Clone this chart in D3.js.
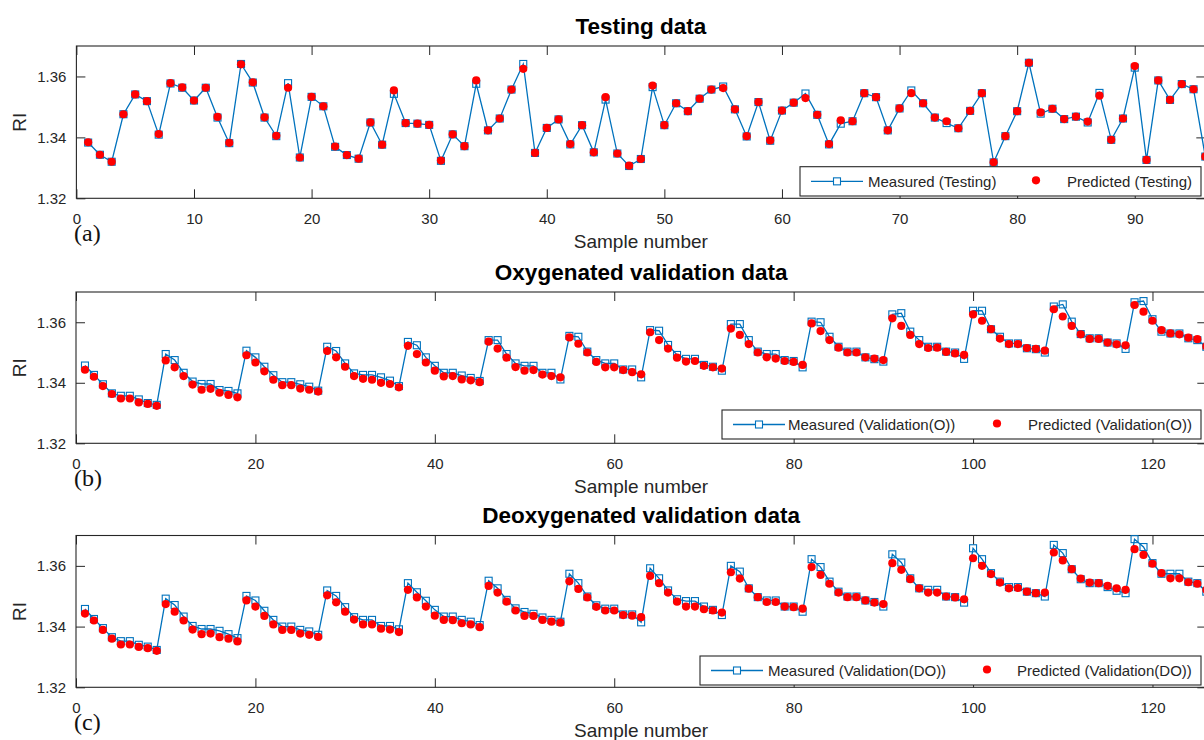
<!DOCTYPE html>
<html>
<head>
<meta charset="utf-8">
<script src="https://cdn.jsdelivr.net/npm/d3@7"></script>
<style>
  html, body { margin: 0; padding: 0; background: #fff; overflow: hidden; }
  svg { display: block; }
</style>
</head>
<body>
<svg id="chart" width="1204" height="740"></svg>
<script>
// ---------------- DATA ----------------
const titles = ["Testing data", "Oxygenated validation data", "Deoxygenated validation data"];
const panelTags = ["(a)", "(b)", "(c)"];
const xLabel = "Sample number";
const yLabel = "RI";
const yTicks = [1.32, 1.34, 1.36];
const xTicksTesting = [0, 10, 20, 30, 40, 50, 60, 70, 80, 90];
const xTicksValidation = [0, 20, 40, 60, 80, 100, 120];
const legendTesting = ["Measured (Testing)", "Predicted (Testing)"];
const legendO = ["Measured (Validation(O))", "Predicted (Validation(O))"];
const legendDO = ["Measured (Validation(DO))", "Predicted (Validation(DO))"];

const testingPredicted = [
  1.3384, 1.3343, 1.3320, 1.3476, 1.3541, 1.3519, 1.3411, 1.3578, 1.3564, 1.3521,
  1.3563, 1.3467, 1.3382, 1.3640, 1.3581, 1.3466, 1.3405, 1.3563, 1.3334, 1.3533,
  1.3502, 1.3370, 1.3342, 1.3330, 1.3449, 1.3376, 1.3554, 1.3447, 1.3445, 1.3441,
  1.3324, 1.3410, 1.3371, 1.3587, 1.3423, 1.3462, 1.3557, 1.3625, 1.3349, 1.3431,
  1.3459, 1.3378, 1.3440, 1.3351, 1.3532, 1.3347, 1.3307, 1.3329, 1.3570, 1.3440,
  1.3512, 1.3486, 1.3527, 1.3557, 1.3562, 1.3492, 1.3404, 1.3516, 1.3390, 1.3488,
  1.3514, 1.3529, 1.3474, 1.3378, 1.3456, 1.3453, 1.3545, 1.3532, 1.3423, 1.3495,
  1.3545, 1.3512, 1.3465, 1.3453, 1.3430, 1.3487, 1.3545, 1.3318, 1.3404, 1.3486,
  1.3645, 1.3482, 1.3494, 1.3460, 1.3468, 1.3452, 1.3537, 1.3392, 1.3462, 1.3634,
  1.3326, 1.3587, 1.3523, 1.3575, 1.3558, 1.3337
];
const testingMeasured = [
  1.3383, 1.3343, 1.3320, 1.3476, 1.3541, 1.3519, 1.3409, 1.3577, 1.3563, 1.3521,
  1.3563, 1.3465, 1.3381, 1.3641, 1.3580, 1.3465, 1.3404, 1.3578, 1.3334, 1.3533,
  1.3502, 1.3369, 1.3342, 1.3330, 1.3449, 1.3376, 1.3543, 1.3447, 1.3445, 1.3441,
  1.3323, 1.3410, 1.3371, 1.3576, 1.3423, 1.3462, 1.3557, 1.3641, 1.3349, 1.3431,
  1.3459, 1.3377, 1.3440, 1.3351, 1.3524, 1.3347, 1.3306, 1.3329, 1.3565, 1.3440,
  1.3512, 1.3486, 1.3527, 1.3557, 1.3567, 1.3492, 1.3403, 1.3516, 1.3389, 1.3488,
  1.3514, 1.3544, 1.3474, 1.3377, 1.3445, 1.3453, 1.3545, 1.3532, 1.3423, 1.3495,
  1.3554, 1.3512, 1.3465, 1.3447, 1.3430, 1.3487, 1.3545, 1.3318, 1.3404, 1.3486,
  1.3645, 1.3478, 1.3494, 1.3460, 1.3468, 1.3449, 1.3546, 1.3392, 1.3462, 1.3629,
  1.3326, 1.3587, 1.3523, 1.3575, 1.3558, 1.3337
];

const oMeasured = [
  1.3457, 1.3426, 1.3395, 1.3365, 1.3357, 1.3357, 1.3345, 1.3333, 1.3327,
  1.3495, 1.3475, 1.3433, 1.3404, 1.3396, 1.3396, 1.3376, 1.3373, 1.3365,
  1.3506, 1.3484, 1.3453, 1.3425, 1.3402, 1.3402, 1.3395, 1.3387, 1.3374,
  1.3519, 1.3505, 1.3464, 1.3431, 1.3426, 1.3426, 1.3418, 1.3407, 1.3389,
  1.3535, 1.3524, 1.3484, 1.3456, 1.3433, 1.3433, 1.3424, 1.3416, 1.3406,
  1.3541, 1.3541, 1.3495, 1.3464, 1.3456, 1.3456, 1.3433, 1.3433, 1.3411,
  1.3555, 1.3552, 1.3503, 1.3475, 1.3464, 1.3464, 1.3444, 1.3444, 1.3418,
  1.3574, 1.3572, 1.3525, 1.3492, 1.3479, 1.3479, 1.3459, 1.3453, 1.3440,
  1.3594, 1.3594, 1.3541, 1.3503, 1.3495, 1.3495, 1.3475, 1.3472, 1.3451,
  1.3602, 1.3600, 1.3552, 1.3519, 1.3503, 1.3503, 1.3484, 1.3478, 1.3470,
  1.3626, 1.3630, 1.3569, 1.3541, 1.3519, 1.3519, 1.3503, 1.3500, 1.3479,
  1.3638, 1.3638, 1.3577, 1.3552, 1.3530, 1.3530, 1.3514, 1.3511, 1.3500,
  1.3652, 1.3659, 1.3602, 1.3561, 1.3547, 1.3547, 1.3533, 1.3530, 1.3512,
  1.3666, 1.3670, 1.3610, 1.3569, 1.3563, 1.3563, 1.3547, 1.3541, 1.3519
];
const oPredicted = [
  1.3443, 1.3420, 1.3389, 1.3363, 1.3348, 1.3348, 1.3335, 1.3330, 1.3324,
  1.3474, 1.3451, 1.3422, 1.3394, 1.3377, 1.3380, 1.3367, 1.3360, 1.3352,
  1.3491, 1.3467, 1.3438, 1.3410, 1.3392, 1.3392, 1.3381, 1.3377, 1.3371,
  1.3505, 1.3484, 1.3453, 1.3422, 1.3413, 1.3410, 1.3400, 1.3396, 1.3385,
  1.3522, 1.3495, 1.3467, 1.3440, 1.3421, 1.3422, 1.3411, 1.3408, 1.3402,
  1.3536, 1.3513, 1.3483, 1.3452, 1.3440, 1.3442, 1.3427, 1.3422, 1.3418,
  1.3550, 1.3529, 1.3500, 1.3469, 1.3451, 1.3451, 1.3442, 1.3435, 1.3428,
  1.3567, 1.3541, 1.3513, 1.3483, 1.3470, 1.3472, 1.3456, 1.3451, 1.3447,
  1.3579, 1.3558, 1.3528, 1.3500, 1.3484, 1.3480, 1.3472, 1.3469, 1.3459,
  1.3596, 1.3571, 1.3541, 1.3516, 1.3500, 1.3500, 1.3484, 1.3480, 1.3475,
  1.3613, 1.3588, 1.3558, 1.3528, 1.3515, 1.3516, 1.3502, 1.3497, 1.3492,
  1.3626, 1.3605, 1.3577, 1.3546, 1.3528, 1.3528, 1.3515, 1.3512, 1.3506,
  1.3643, 1.3619, 1.3588, 1.3560, 1.3545, 1.3545, 1.3533, 1.3527, 1.3524,
  1.3657, 1.3635, 1.3605, 1.3574, 1.3563, 1.3560, 1.3549, 1.3544, 1.3520
];

const doMeasured = [
  1.3458, 1.3425, 1.3395, 1.3365, 1.3352, 1.3352, 1.3340, 1.3334, 1.3323,
  1.3492, 1.3471, 1.3433, 1.3402, 1.3392, 1.3392, 1.3386, 1.3375, 1.3362,
  1.3501, 1.3486, 1.3452, 1.3422, 1.3400, 1.3400, 1.3389, 1.3384, 1.3373,
  1.3519, 1.3501, 1.3464, 1.3431, 1.3422, 1.3422, 1.3402, 1.3402, 1.3391,
  1.3543, 1.3513, 1.3485, 1.3455, 1.3433, 1.3433, 1.3422, 1.3416, 1.3405,
  1.3551, 1.3526, 1.3488, 1.3460, 1.3448, 1.3442, 1.3430, 1.3422, 1.3416,
  1.3574, 1.3543, 1.3499, 1.3470, 1.3459, 1.3459, 1.3440, 1.3440, 1.3414,
  1.3592, 1.3559, 1.3519, 1.3490, 1.3484, 1.3484, 1.3466, 1.3455, 1.3438,
  1.3600, 1.3581, 1.3526, 1.3497, 1.3486, 1.3486, 1.3466, 1.3466, 1.3449,
  1.3622, 1.3596, 1.3548, 1.3515, 1.3499, 1.3499, 1.3486, 1.3481, 1.3466,
  1.3638, 1.3611, 1.3559, 1.3526, 1.3521, 1.3521, 1.3499, 1.3497, 1.3479,
  1.3658, 1.3622, 1.3576, 1.3548, 1.3530, 1.3530, 1.3515, 1.3510, 1.3499,
  1.3669, 1.3642, 1.3589, 1.3556, 1.3543, 1.3543, 1.3530, 1.3518, 1.3510,
  1.3688, 1.3662, 1.3609, 1.3574, 1.3574, 1.3574, 1.3548, 1.3543, 1.3515
];
const doPredicted = [
  1.3443, 1.3420, 1.3389, 1.3360, 1.3341, 1.3341, 1.3333, 1.3329, 1.3320,
  1.3474, 1.3449, 1.3420, 1.3390, 1.3375, 1.3377, 1.3365, 1.3360, 1.3351,
  1.3486, 1.3466, 1.3435, 1.3407, 1.3389, 1.3389, 1.3377, 1.3373, 1.3366,
  1.3503, 1.3480, 1.3449, 1.3423, 1.3407, 1.3407, 1.3393, 1.3390, 1.3382,
  1.3521, 1.3496, 1.3466, 1.3436, 1.3422, 1.3421, 1.3411, 1.3407, 1.3398,
  1.3534, 1.3512, 1.3482, 1.3453, 1.3435, 1.3435, 1.3422, 1.3416, 1.3413,
  1.3549, 1.3524, 1.3496, 1.3465, 1.3453, 1.3453, 1.3438, 1.3436, 1.3431,
  1.3567, 1.3543, 1.3512, 1.3482, 1.3466, 1.3466, 1.3457, 1.3453, 1.3446,
  1.3579, 1.3558, 1.3525, 1.3497, 1.3481, 1.3481, 1.3466, 1.3464, 1.3459,
  1.3596, 1.3570, 1.3541, 1.3512, 1.3497, 1.3497, 1.3486, 1.3479, 1.3474,
  1.3609, 1.3587, 1.3556, 1.3526, 1.3512, 1.3512, 1.3499, 1.3496, 1.3490,
  1.3625, 1.3600, 1.3573, 1.3545, 1.3526, 1.3527, 1.3515, 1.3510, 1.3512,
  1.3644, 1.3618, 1.3589, 1.3558, 1.3545, 1.3543, 1.3534, 1.3526, 1.3521,
  1.3655, 1.3636, 1.3607, 1.3576, 1.3559, 1.3559, 1.3546, 1.3541, 1.3521
];

// ---------------- LAYOUT ----------------
const svg = d3.select("#chart");
const AX = "#262626";
const BLUE = "#0072BD";
const RED = "#FF0000";
const SANS = "'Liberation Sans', Arial, Helvetica, sans-serif";
const SERIF = "'Liberation Serif', 'Times New Roman', serif";

const panels = [
  { title: titles[0], tag: panelTags[0], measured: testingMeasured, predicted: testingPredicted,
    xMax: 96, xTicks: xTicksTesting, legend: legendTesting,
    top: 46, bottom: 198.3, left: 76.4, right: 1205.3,
    lg: { x0: 800, x1: 1201, y0: 166.7, y1: 196, line0: 811, line1: 863, textA: 868, dot: 1036, textB: 1067 } },
  { title: titles[1], tag: panelTags[1], measured: oMeasured, predicted: oPredicted,
    xMax: 126, xTicks: xTicksValidation, legend: legendO,
    top: 292, bottom: 443.3, left: 76, right: 1206.3,
    lg: { x0: 722, x1: 1201, y0: 410, y1: 439, line0: 733, line1: 785, textA: 788, dot: 997, textB: 1028 } },
  { title: titles[2], tag: panelTags[2], measured: doMeasured, predicted: doPredicted,
    xMax: 126, xTicks: xTicksValidation, legend: legendDO,
    top: 535.5, bottom: 687.3, left: 76, right: 1206.3,
    lg: { x0: 700, x1: 1201, y0: 656, y1: 685, line0: 711, line1: 763, textA: 768, dot: 987, textB: 1017 } }
];

const SQ = 7;      // square marker side
const DOT_R = 4.1; // predicted dot radius
const TICK = 9;

panels.forEach((p, pi) => {
  const x = d3.scaleLinear().domain([0, p.xMax]).range([p.left, p.right]);
  const y = d3.scaleLinear().domain([1.32, 1.37]).range([p.bottom, p.top]);
  const g = svg.append("g");

  const clipId = "clip" + pi;
  svg.append("clipPath").attr("id", clipId).append("rect")
    .attr("x", p.left).attr("y", p.top - 4).attr("width", p.right - p.left).attr("height", p.bottom - p.top + 4);

  const xAxis = d3.axisBottom(x).tickValues(p.xTicks).tickSize(-TICK).tickPadding(TICK + 6).tickFormat(d3.format("d"));
  const xAxisTop = d3.axisTop(x).tickValues(p.xTicks).tickSize(-TICK).tickFormat("");
  const yAxis = d3.axisLeft(y).tickValues(yTicks).tickSize(-TICK).tickPadding(TICK + 1).tickFormat(d3.format(".2f"));
  const yAxisRight = d3.axisRight(y).tickValues(yTicks).tickSize(-TICK).tickFormat("");

  const styleAxis = sel => {
    sel.select(".domain").remove();
    sel.selectAll(".tick line").attr("stroke", AX).attr("stroke-width", 1);
    sel.selectAll(".tick text").attr("fill", AX).style("font-family", SANS).style("font-size", "15px");
  };
  g.append("g").attr("transform", `translate(0,${p.bottom})`).call(xAxis).call(styleAxis);
  g.append("g").attr("transform", `translate(0,${p.top})`).call(xAxisTop).call(styleAxis);
  g.append("g").attr("transform", `translate(${p.left},0)`).call(yAxis).call(styleAxis);
  g.append("g").attr("transform", `translate(${p.right},0)`).call(yAxisRight).call(styleAxis);

  g.append("rect").attr("x", p.left).attr("y", p.top).attr("width", p.right - p.left).attr("height", p.bottom - p.top)
    .attr("fill", "none").attr("stroke", AX).attr("stroke-width", 1.1);

  const dg = g.append("g").attr("clip-path", `url(#${clipId})`);
  const line = d3.line().x((d, i) => x(i + 1)).y(d => y(d));
  dg.append("path").datum(p.measured).attr("d", line).attr("fill", "none").attr("stroke", BLUE).attr("stroke-width", 1.3);
  dg.selectAll("rect.m").data(p.measured).join("rect").attr("class", "m")
    .attr("x", (d, i) => x(i + 1) - SQ / 2).attr("y", d => y(d) - SQ / 2)
    .attr("width", SQ).attr("height", SQ).attr("fill", "none").attr("stroke", BLUE).attr("stroke-width", 1.1);
  dg.selectAll("circle.p").data(p.predicted).join("circle").attr("class", "p")
    .attr("cx", (d, i) => x(i + 1)).attr("cy", d => y(d)).attr("r", DOT_R).attr("fill", RED);

  g.append("text").attr("x", (p.left + p.right) / 2).attr("y", p.top - 12.5).attr("text-anchor", "middle")
    .style("font-family", SANS).style("font-size", "22.5px").style("font-weight", "bold").attr("fill", "#000").text(p.title);
  g.append("text").attr("x", (p.left + p.right) / 2).attr("y", p.bottom + 50).attr("text-anchor", "middle")
    .style("font-family", SANS).style("font-size", "19px").attr("fill", AX).text(xLabel);
  g.append("text").attr("transform", `translate(26,${(p.top + p.bottom) / 2}) rotate(-90)`).attr("text-anchor", "middle")
    .style("font-family", SANS).style("font-size", "19px").attr("fill", AX).text(yLabel);
  g.append("text").attr("x", 74).attr("y", p.bottom + 43).style("font-family", SERIF).style("font-size", "24px")
    .attr("fill", "#111").text(p.tag);

  const L = p.lg, cy = (L.y0 + L.y1) / 2;
  g.append("rect").attr("x", L.x0).attr("y", L.y0).attr("width", L.x1 - L.x0).attr("height", L.y1 - L.y0)
    .attr("fill", "#fff").attr("stroke", AX).attr("stroke-width", 1.1);
  g.append("line").attr("x1", L.line0).attr("x2", L.line1).attr("y1", cy).attr("y2", cy).attr("stroke", BLUE).attr("stroke-width", 1.3);
  g.append("rect").attr("x", (L.line0 + L.line1) / 2 - SQ / 2).attr("y", cy - SQ / 2).attr("width", SQ).attr("height", SQ)
    .attr("fill", "#fff").attr("stroke", BLUE).attr("stroke-width", 1.1);
  g.append("text").attr("x", L.textA).attr("y", cy + 5.2).style("font-family", SANS).style("font-size", "15px").attr("fill", AX).text(p.legend[0]);
  g.append("circle").attr("cx", L.dot).attr("cy", cy - 1).attr("r", DOT_R).attr("fill", RED);
  g.append("text").attr("x", L.textB).attr("y", cy + 5.2).style("font-family", SANS).style("font-size", "15px").attr("fill", AX).text(p.legend[1]);
});
</script>
</body>
</html>
